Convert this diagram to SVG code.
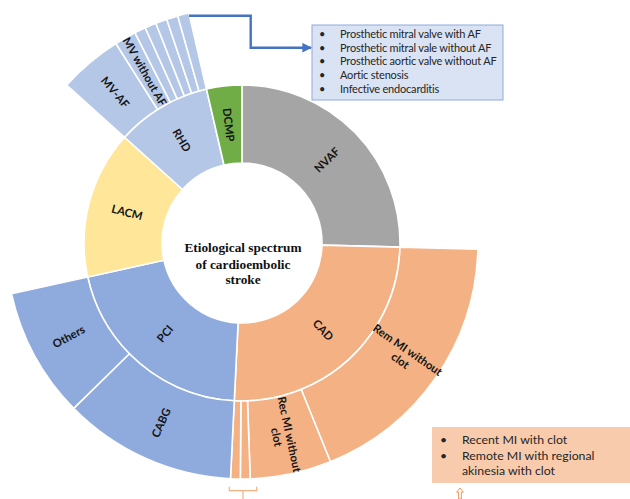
<svg xmlns="http://www.w3.org/2000/svg" width="630" height="499" viewBox="0 0 630 499">
<defs>
<style>
.seg{stroke:#fff;stroke-width:1.6;stroke-linejoin:miter}
.nv{fill:#a5a5a5}.cad{fill:#f4b183}.pci{fill:#8faadc}.la{fill:#ffe699}.rhd{fill:#b4c7e7}.dc{fill:#70ad47}
.lb{font-family:Lato,"Open Sans","Liberation Sans",sans-serif;font-weight:bold;font-size:11.3px;fill:#141414;text-anchor:middle}
.ct{font-family:"Liberation Serif","Times New Roman",serif;font-weight:bold;font-size:13.3px;fill:#111;text-anchor:middle}
.bx{font-family:Lato,"Open Sans","Liberation Sans",sans-serif;font-size:11px;letter-spacing:-0.2px;fill:#262626}
.bx2{font-family:Lato,"Open Sans","Liberation Sans",sans-serif;font-size:12.3px;fill:#262626}
</style>
<marker id="ah" viewBox="0 0 10 10" refX="9" refY="5" markerWidth="4" markerHeight="4" orient="auto" markerUnits="strokeWidth">
<path d="M0,0 L10,5 L0,10 Z" fill="#4472c4"/>
</marker>
</defs>
<rect width="630" height="499" fill="#fff"/>

<g id="NVAF"><path class="seg nv" d="M242,85 A158,158 0 0 1 399.95,247.14 L321.97,245.09 A80,80 0 0 0 242,163 Z"/>
<text class="lb" transform="translate(327.2,160) rotate(-44.25)" y="3.8">NVAF</text></g>
<g id="CAD"><path class="seg cad" d="M399.95,247.14 A158,158 0 0 1 234.28,400.81 L238.09,322.9 A80,80 0 0 0 321.97,245.09 Z"/>
<text class="lb" transform="translate(322.9,330.2) rotate(47.15)" y="3.8">CAD</text></g>
<g id="PCI"><path class="seg pci" d="M234.28,400.81 A158,158 0 0 1 87.69,276.93 L163.87,260.18 A80,80 0 0 0 238.09,322.9 Z"/>
<text class="lb" transform="translate(165.2,333.9) rotate(-49.8)" y="3.8">PCI</text></g>
<g id="LACM"><path class="seg la" d="M87.69,276.93 A158,158 0 0 1 124.58,137.28 L182.55,189.47 A80,80 0 0 0 163.87,260.18 Z"/>
<text class="lb" transform="translate(127,212.6) rotate(14.8)" y="3.8">LACM</text></g>
<g id="RHD"><path class="seg rhd" d="M124.58,137.28 A158,158 0 0 1 206.46,89.05 L224,165.05 A80,80 0 0 0 182.55,189.47 Z"/>
<text class="lb" transform="translate(181.6,140.5) rotate(59.5)" y="3.8">RHD</text></g>
<g id="DCMP"><path class="seg dc" d="M206.46,89.05 A158,158 0 0 1 242,85 L242,163 A80,80 0 0 0 224,165.05 Z"/>
<text class="lb" transform="translate(228.5,124.8) rotate(83.5)" y="3.8">DCMP</text></g>

<g id="RemMI"><path class="seg cad" d="M477.92,249.18 A236,236 0 0 1 330.41,461.81 L301.19,389.49 A158,158 0 0 0 399.95,247.14 Z"/>
<text class="lb" transform="translate(403.9,355.3) rotate(34.75)"><tspan x="0" y="-2.5">Rem MI without</tspan><tspan x="0" y="10.5">clot</tspan></text></g>
<g id="RecMI"><path class="seg cad" d="M330.41,461.81 A236,236 0 0 1 250.24,478.86 L247.51,400.9 A158,158 0 0 0 301.19,389.49 Z"/>
<text class="lb" transform="translate(283,435.7) rotate(78)"><tspan x="0" y="-2.5">Rec MI without</tspan><tspan x="0" y="10.5">clot</tspan></text></g>
<g id="CAD-thin2"><path class="seg cad" d="M250.24,478.86 A236,236 0 0 1 240.35,479 L240.9,401 A158,158 0 0 0 247.51,400.9 Z"/></g>
<g id="CAD-thin1"><path class="seg cad" d="M240.35,479 A236,236 0 0 1 230.47,478.72 L234.28,400.81 A158,158 0 0 0 240.9,401 Z"/></g>
<g id="CABG"><path class="seg pci" d="M230.47,478.72 A236,236 0 0 1 73.67,408.41 L129.31,353.74 A158,158 0 0 0 234.28,400.81 Z"/>
<text class="lb" transform="translate(161.4,422.8) rotate(-65.85)" y="3.8">CABG</text></g>
<g id="Others"><path class="seg pci" d="M73.67,408.41 A236,236 0 0 1 11.51,293.68 L87.69,276.93 A158,158 0 0 0 129.31,353.74 Z"/>
<text class="lb" transform="translate(68.8,336.9) rotate(-28.45)" y="3.8">Others</text></g>
<g id="MV-AF"><path class="seg rhd" d="M66.62,85.09 A236,236 0 0 1 115.89,43.52 L157.57,109.45 A158,158 0 0 0 124.58,137.28 Z"/>
<text class="lb" transform="translate(115,92.4) rotate(49.85)" y="3.8">MV-AF</text></g>
<g id="MV-without-AF"><path class="seg rhd" d="M115.89,43.52 A236,236 0 0 1 134.86,32.72 L170.27,102.22 A158,158 0 0 0 157.57,109.45 Z"/>
<text class="lb" transform="translate(144.5,71.8) rotate(60.35)" y="3.8">MV without AF</text></g>
<g id="RHD-s1"><path class="seg rhd" d="M134.86,32.72 A236,236 0 0 1 145.26,27.74 L177.23,98.89 A158,158 0 0 0 170.27,102.22 Z"/></g>
<g id="RHD-s2"><path class="seg rhd" d="M145.26,27.74 A236,236 0 0 1 155.89,23.27 L184.35,95.89 A158,158 0 0 0 177.23,98.89 Z"/></g>
<g id="RHD-s3"><path class="seg rhd" d="M155.89,23.27 A236,236 0 0 1 166.72,19.33 L191.6,93.25 A158,158 0 0 0 184.35,95.89 Z"/></g>
<g id="RHD-s4"><path class="seg rhd" d="M166.72,19.33 A236,236 0 0 1 177.73,15.92 L198.98,90.97 A158,158 0 0 0 191.6,93.25 Z"/></g>
<g id="RHD-s5"><path class="seg rhd" d="M177.73,15.92 A236,236 0 0 1 188.91,13.05 L206.46,89.05 A158,158 0 0 0 198.98,90.97 Z"/></g>

<g id="center">
<circle cx="242" cy="243" r="79.2" fill="#fff"/>
<text class="ct" x="243" y="252">Etiological spectrum</text>
<text class="ct" x="243" y="268.5">of cardioembolic</text>
<text class="ct" x="243" y="284">stroke</text>
</g>

<g id="valve-box">
<rect x="312" y="25" width="191" height="75" fill="#dae3f3" stroke="#8faadc" stroke-width="1"/>
<g class="bx">
<text x="319" y="38">•</text><text x="340" y="38">Prosthetic mitral valve with AF</text>
<text x="319" y="51.7">•</text><text x="340" y="51.7">Prosthetic mitral vale without AF</text>
<text x="319" y="65.3">•</text><text x="340" y="65.3">Prosthetic aortic valve without AF</text>
<text x="319" y="79">•</text><text x="340" y="79">Aortic stenosis</text>
<text x="319" y="92.7">•</text><text x="340" y="92.7">Infective endocarditis</text>
</g>
</g>

<g id="mi-box">
<rect x="432" y="427" width="198" height="56" fill="#f8cbad"/>
<g class="bx2">
<text x="440" y="444">•</text><text x="462" y="444">Recent MI with clot</text>
<text x="440" y="459.5">•</text><text x="462" y="459.5">Remote MI with regional</text>
<text x="462" y="475">akinesia with clot</text>
</g>
</g>

<g id="connectors">
<path d="M189,15.7 H250.7 V47.7 H311" fill="none" stroke="#4472c4" stroke-width="2.4" marker-end="url(#ah)"/>
<path d="M229.3,486.7 V490.7 H256.7 V486.7 M243,490.7 V499" fill="none" stroke="#f4b183" stroke-width="1.2"/>
<path d="M460,488 L456.6,492.2 L458.6,492.2 L458.6,499 L461.4,499 L461.4,492.2 L463.4,492.2 Z" fill="#fff" stroke="#ed7d31" stroke-width="0.8"/>
</g>
</svg>
